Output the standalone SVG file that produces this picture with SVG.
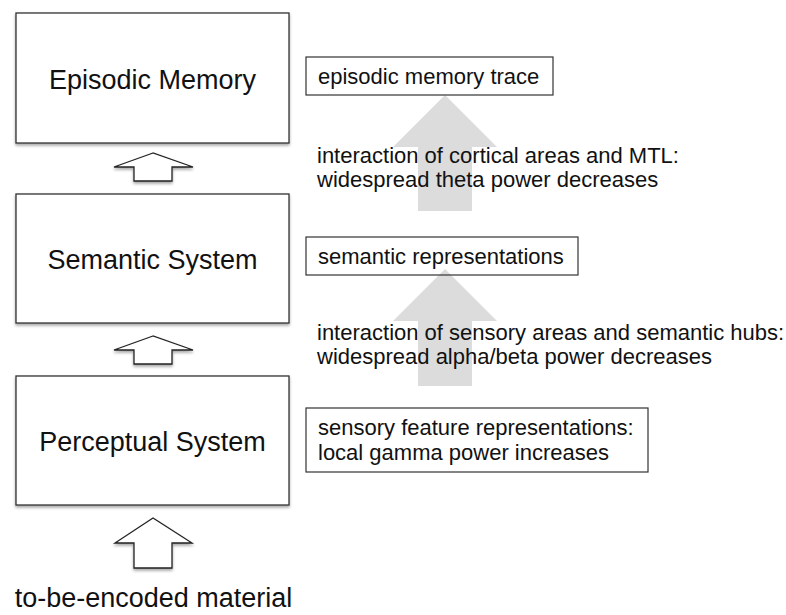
<svg xmlns="http://www.w3.org/2000/svg" width="786" height="615" viewBox="0 0 786 615">
<defs>
<filter id="sh" x="-10%" y="-10%" width="130%" height="130%">
<feGaussianBlur in="SourceAlpha" stdDeviation="1.5"/>
<feOffset dx="0" dy="2" result="b"/>
<feComponentTransfer><feFuncA type="linear" slope="0.35"/></feComponentTransfer>
<feMerge><feMergeNode/><feMergeNode in="SourceGraphic"/></feMerge>
</filter>
</defs>
<style>
.box{fill:#fff;stroke:#333;stroke-width:1.3}
.lbl{fill:#fff;stroke:#333;stroke-width:1.2}
.big{font-family:"Liberation Sans",Arial,sans-serif;font-size:27px;fill:#111;text-anchor:middle}
.sm{font-family:"Liberation Sans",Arial,sans-serif;font-size:22px;fill:#111}
.warr{fill:#fff;stroke:#222;stroke-width:1.3}
.garr{fill:#dcdcdc}
</style>
<rect width="786" height="615" fill="#fff"/>
<g id="connectors">
<polygon class="warr" filter="url(#sh)" points="153,153 114,167 134,167 134,181 172,181 172,167 193,167"/>
<polygon class="warr" filter="url(#sh)" points="153,336 114,350 134,350 134,364 172,364 172,350 193,350"/>
<polygon class="warr" filter="url(#sh)" points="153,518 115,543 134,543 134,568 172,568 172,543 192,543"/>
<polygon class="garr" points="445,95 393,147 418,147 418,211 472,211 472,147 497,147"/>
<polygon class="garr" points="445,269 393,321 418,321 418,386 472,386 472,321 497,321"/>
</g>
<g id="episodic-memory">
<rect class="box" filter="url(#sh)" x="16" y="13" width="273" height="130"/>
<text class="big" x="152.5" y="89">Episodic Memory</text>
</g>
<g id="semantic-system">
<rect class="box" filter="url(#sh)" x="16" y="194" width="273" height="129"/>
<text class="big" x="152.5" y="269">Semantic System</text>
</g>
<g id="perceptual-system">
<rect class="box" filter="url(#sh)" x="16" y="376" width="273" height="129"/>
<text class="big" x="152.5" y="451">Perceptual System</text>
</g>
<g id="input-label">
<text class="big" x="153.5" y="607">to-be-encoded material</text>
</g>
<g id="episodic-trace">
<rect class="lbl" x="306" y="57" width="247" height="38"/>
<text class="sm" x="318" y="84">episodic memory trace</text>
</g>
<g id="cortical-mtl">
<text class="sm" x="317" y="163">interaction of cortical areas and MTL:</text>
<text class="sm" x="317" y="187">widespread theta power decreases</text>
</g>
<g id="semantic-repr">
<rect class="lbl" x="306" y="237" width="272" height="38" fill-opacity="0"/>
<text class="sm" x="318" y="264">semantic representations</text>
</g>
<g id="sensory-semantic">
<text class="sm" x="317" y="340">interaction of sensory areas and semantic hubs:</text>
<text class="sm" x="317" y="364">widespread alpha/beta power decreases</text>
</g>
<g id="sensory-feature">
<rect class="lbl" x="306" y="408" width="342" height="64"/>
<text class="sm" x="318" y="435">sensory feature representations:</text>
<text class="sm" x="318" y="460">local gamma power increases</text>
</g>
</svg>
